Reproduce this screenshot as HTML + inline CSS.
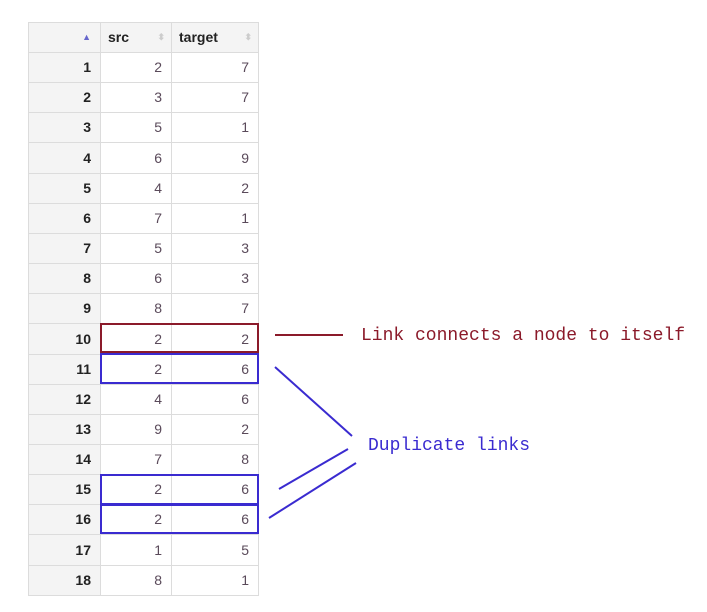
<!DOCTYPE html>
<html><head><style>
body{margin:0;width:707px;height:612px;background:#fff;position:relative;overflow:hidden;font-family:"Liberation Sans",sans-serif}
.c{position:absolute;box-sizing:border-box;border:1px solid #dcdcdc;font-size:14px;text-align:right;padding-right:9px}
.i{background:#f4f4f4;font-weight:bold;color:#222}
.d{background:#fff;color:#5a4a5a}
.h{background:#f4f4f4;font-weight:bold;color:#222;text-align:left;padding-left:7px}
.box{position:absolute;box-sizing:border-box;border:2px solid}
.t{position:absolute;font-family:"Liberation Mono",monospace;font-size:18px;white-space:nowrap}
</style></head><body>
<div id="tb"></div>
<script>
var data=[[2,7],[3,7],[5,1],[6,9],[4,2],[7,1],[5,3],[6,3],[8,7],[2,2],[2,6],[4,6],[9,2],[7,8],[2,6],[2,6],[1,5],[8,1]];
var h='';
h+='<div class="c i" style="left:28px;top:22px;width:73px;height:31px;line-height:29px;color:#66c;font-size:9px">▲</div>';
h+='<div class="c h" style="left:100px;top:22px;width:72px;height:31px;line-height:29px">src<span style="position:absolute;right:6px;color:#ccc;font-size:9px">⬍</span></div>';
h+='<div class="c h" style="left:171px;top:22px;width:88px;height:31px;line-height:29px">target<span style="position:absolute;right:6px;color:#ccc;font-size:9px">⬍</span></div>';
for(var k=0;k<18;k++){var y=Math.round(52+k*30.15),y2=Math.round(52+(k+1)*30.15),hh=y2-y+1;
var st='top:'+y+'px;height:'+hh+'px;line-height:'+(hh-2)+'px;';
h+='<div class="c i" style="left:28px;'+st+'width:73px">'+(k+1)+'</div>';
h+='<div class="c d" style="left:100px;'+st+'width:72px">'+data[k][0]+'</div>';
h+='<div class="c d" style="left:171px;'+st+'width:88px">'+data[k][1]+'</div>';}
document.getElementById('tb').innerHTML=h;
</script>
<div class="box" style="left:100px;top:323px;width:159px;height:30px;border-color:#8b1a2a"></div>
<div class="box" style="left:100px;top:353px;width:159px;height:31px;border-color:#3a2bd0"></div>
<div class="box" style="left:100px;top:474px;width:159px;height:31px;border-color:#3a2bd0"></div>
<div class="box" style="left:100px;top:504px;width:159px;height:30px;border-color:#3a2bd0"></div>
<svg style="position:absolute;left:0;top:0" width="707" height="612">
<line x1="275" y1="335" x2="343" y2="335" stroke="#8b1a2a" stroke-width="2"/>
<g stroke="#3a2bd0" stroke-width="2">
<line x1="275" y1="367" x2="352" y2="436"/>
<line x1="279" y1="489" x2="348" y2="449"/>
<line x1="269" y1="518" x2="356" y2="463"/>
</g></svg>
<div class="t" style="left:361px;top:326px;color:#8b1a2a">Link connects a node to itself</div>
<div class="t" style="left:368px;top:436px;color:#3a2bd0">Duplicate links</div>
</body></html>
